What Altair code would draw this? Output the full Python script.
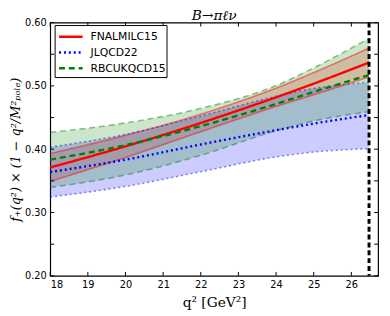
import altair as alt
import pandas as pd

# ---------------- data ----------------
q2 = [18, 20, 22, 24, 25, 26.47]
series_names = ["FNALMILC15", "JLQCD22", "RBCUKQCD15"]
series_colors = ["#ff0000", "#0000ff", "#008000"]

fnal_lo = [0.3492, 0.3870, 0.4277, 0.4675, 0.4860, 0.5141]
fnal_c = [0.3712, 0.4045, 0.4415, 0.4820, 0.5035, 0.5369]
fnal_hi = [0.3932, 0.4220, 0.4553, 0.4965, 0.5210, 0.5597]

jlqcd_lo = [0.3246, 0.3412, 0.3645, 0.3878, 0.3955, 0.4007]
jlqcd_c = [0.3640, 0.3835, 0.4075, 0.4300, 0.4405, 0.4540]
jlqcd_hi = [0.4033, 0.4235, 0.4525, 0.4835, 0.4960, 0.5058]

rbc_lo = [0.3396, 0.3593, 0.3904, 0.4292, 0.4447, 0.4592]
rbc_c = [0.3836, 0.4065, 0.4365, 0.4715, 0.4905, 0.5172]
rbc_hi = [0.4266, 0.4415, 0.4645, 0.5005, 0.5285, 0.5752]

q2_max = [26.47]
x_ticks = [18, 19, 20, 21, 22, 23, 24, 25, 26]
y_ticks = [0.20, 0.25, 0.30, 0.35, 0.40, 0.45, 0.50, 0.55, 0.60]
title_text = "B→πℓν"

# ---------------- build table ----------------
rows = []
for name, lo, c, hi in [
    ("FNALMILC15", fnal_lo, fnal_c, fnal_hi),
    ("JLQCD22", jlqcd_lo, jlqcd_c, jlqcd_hi),
    ("RBCUKQCD15", rbc_lo, rbc_c, rbc_hi),
]:
    for q, l, m, h in zip(q2, lo, c, hi):
        rows.append({"q2": q, "series": name, "lo": l, "c": m, "hi": h})
df = pd.DataFrame(rows)

W, H = 334, 258
xscale = alt.Scale(domain=[18, 26.71], nice=False, zero=False)
yscale = alt.Scale(domain=[0.2, 0.6], nice=False, zero=False)
dashes = [[1, 0], [2, 3], [6, 4]]
color = alt.Color("series:N", scale=alt.Scale(domain=series_names, range=series_colors), legend=None)
dash = alt.StrokeDash("series:N", scale=alt.Scale(domain=series_names, range=dashes), legend=None)

x_main = alt.X("q2:Q", scale=xscale,
               axis=alt.Axis(values=x_ticks, format="d", title="q² [GeV²]", tickSize=0,
                             domain=False, grid=False, labelPadding=4, titlePadding=6))
y_main = alt.Y("lo:Q", scale=yscale,
               axis=alt.Axis(values=y_ticks, format=".2f", title="f₊(q²) × (1 − q²/M²ₚₒₗₑ)",
                             tickSize=0, domain=False, grid=False, labelPadding=4, titlePadding=2))

base = alt.Chart(df)

bands = base.mark_area(opacity=0.2, interpolate="monotone").encode(
    x=x_main, y=y_main, y2="hi:Q", color=color, detail="series:N"
)

line_x = alt.X("q2:Q", scale=xscale)
edge_lo = base.mark_line(opacity=0.45, strokeWidth=1.6, interpolate="monotone").encode(
    x=line_x, y=alt.Y("lo:Q", scale=yscale), color=color, strokeDash=dash, detail="series:N")
edge_hi = base.mark_line(opacity=0.45, strokeWidth=1.6, interpolate="monotone").encode(
    x=line_x, y=alt.Y("hi:Q", scale=yscale), color=color, strokeDash=dash, detail="series:N")
center = base.mark_line(strokeWidth=2.4, interpolate="monotone").encode(
    x=line_x, y=alt.Y("c:Q", scale=yscale), color=color, strokeDash=dash, detail="series:N")

vline = alt.Chart(pd.DataFrame({"q2": q2_max})).mark_rule(
    color="black", strokeWidth=3, strokeDash=[5, 3]).encode(
    x=line_x, y=alt.value(0), y2=alt.value(H))

xt = alt.Chart(pd.DataFrame({"q2": x_ticks}))
yt = alt.Chart(pd.DataFrame({"c": y_ticks}))
tick_style = dict(color="black", strokeWidth=1)
ticks = [
    xt.mark_rule(**tick_style).encode(x=line_x, y=alt.value(H), y2=alt.value(H - 4)),
    xt.mark_rule(**tick_style).encode(x=line_x, y=alt.value(0), y2=alt.value(4)),
    yt.mark_rule(**tick_style).encode(y=alt.Y("c:Q", scale=yscale), x=alt.value(0), x2=alt.value(4)),
    yt.mark_rule(**tick_style).encode(y=alt.Y("c:Q", scale=yscale), x=alt.value(W - 4), x2=alt.value(W)),
]

# ---------------- legend and title (drawn by hand) ----------------
one = alt.Chart(pd.DataFrame({"k": [0]}))
legend_layers = [
    one.mark_rect(fill="white", stroke="black", strokeWidth=1).encode(
        x=alt.value(5), x2=alt.value(119), y=alt.value(3), y2=alt.value(56))
]
for i, (name, col, d) in enumerate(zip(series_names, series_colors, dashes)):
    yy = 14.5 + 16 * i
    legend_layers.append(one.mark_rule(color=col, strokeWidth=2.5, strokeDash=d).encode(
        x=alt.value(9), x2=alt.value(33), y=alt.value(yy)))
    legend_layers.append(one.mark_text(text=name, align="left", baseline="middle", fontSize=11,
                                       font="DejaVu Sans", color="black").encode(
        x=alt.value(41), y=alt.value(yy + 0.5)))

title_layer = one.mark_text(text=title_text, align="center", baseline="alphabetic", fontSize=14,
                            font="DejaVu Serif", fontStyle="italic", color="black").encode(
    x=alt.value(W / 2), y=alt.value(-3))

chart = alt.layer(bands, edge_lo, edge_hi, center, vline, *ticks, *legend_layers, title_layer).properties(
    width=W, height=H,
    padding={"left": 43, "top": 12, "right": 4, "bottom": 36},
    autosize=alt.AutoSizeParams(type="none"),
).configure_view(stroke="black", strokeWidth=1.2).configure_axis(
    labelFont="DejaVu Sans", labelFontSize=10, labelColor="black",
    titleFont="DejaVu Serif", titleFontSize=14, titleFontWeight="normal", titleColor="black",
).configure_axisY(titleFontStyle="italic", titleFontSize=13)

chart.save("out.html", embed_options={"renderer": "svg", "actions": False})
